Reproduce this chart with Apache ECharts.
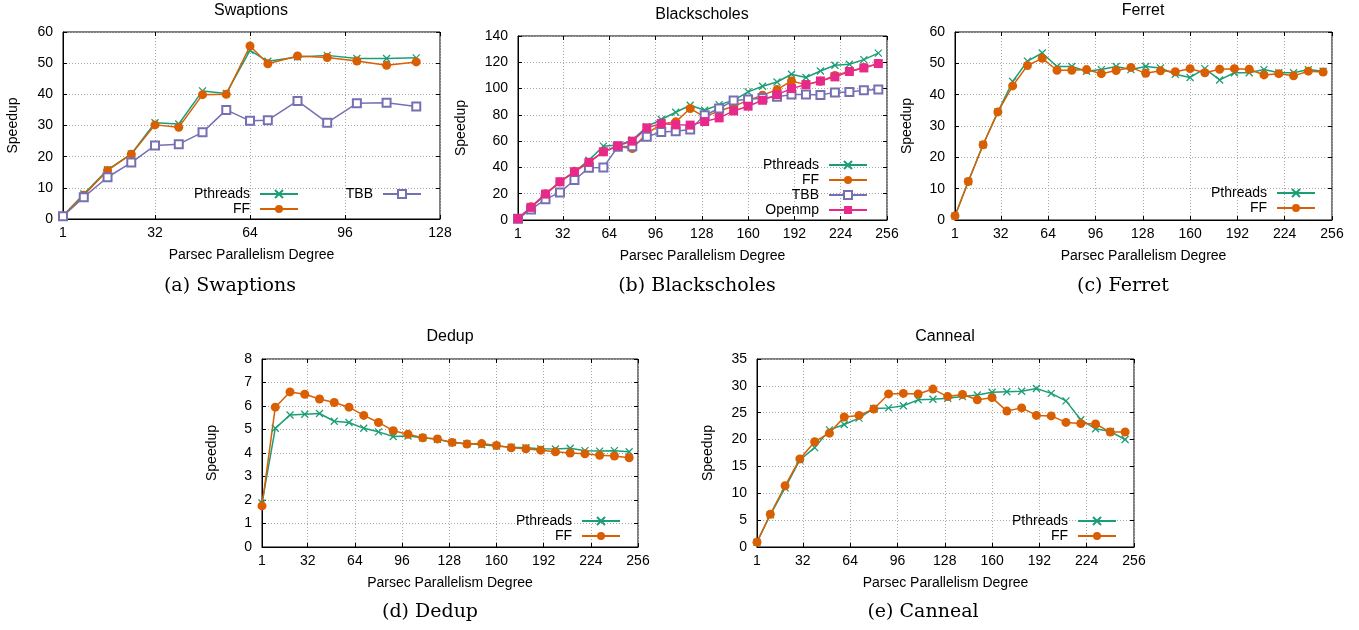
<!DOCTYPE html>
<html>
<head>
<meta charset="utf-8">
<script src="https://cdn.jsdelivr.net/npm/echarts@6/dist/echarts.min.js"></script>
<style>
html,body{margin:0;padding:0;background:#fff;}
#chart{width:1359px;height:630px;}
</style>
</head>
<body>
<div id="chart"></div>
<script>
// ---------- DATA ----------
const xSwaptions = [1, 8, 16, 24, 32, 40, 48, 56, 64, 70, 80, 90, 100, 110, 120];
const swPthreads = [1.0, 8.0, 15.8, 20.9, 30.9, 30.5, 41.1, 40.3, 54.1, 50.6, 52.0, 52.5, 51.5, 51.5, 51.7];
const swFF       = [1.0, 7.6, 15.6, 20.8, 30.2, 29.4, 39.9, 40.0, 55.5, 49.8, 52.3, 51.8, 50.7, 49.3, 50.4];
const swTBB      = [0.9, 7.0, 13.4, 18.1, 23.6, 24.0, 27.8, 35.0, 31.5, 31.7, 37.9, 30.9, 37.1, 37.3, 36.1];

const xParsec = [1, 10, 20, 30, 40, 50, 60, 70, 80, 90, 100, 110, 120, 130, 140, 150, 160, 170, 180, 190, 200, 210, 220, 230, 240, 250];

const bsPthreads = [1, 9.7, 19.5, 29, 36.7, 45.5, 56.2, 57, 60.8, 71, 76.5, 82, 87.3, 83.5, 87.8, 91, 97.5, 101.8, 105, 110.9, 108.4, 113.4, 117.7, 118.5, 122, 127];
const bsFF       = [1, 10, 20, 29, 37, 44, 52, 56, 54.4, 65.8, 73, 74.7, 84.8, 78.5, 83, 86.6, 91, 95, 99.2, 105.8, 103, 105.6, 110, 113, 116, 119];
const bsTBB      = [1, 8, 15.7, 21, 30.4, 39.7, 40, 55.7, 56.2, 63.3, 67, 67.6, 68.9, 79.7, 84.8, 91, 91.6, 92.9, 93.7, 95.4, 95.4, 95.2, 97, 97.4, 98.7, 99.2];
const bsOpenmp   = [1, 9.6, 19.7, 29.1, 36.7, 43.8, 51.9, 56.5, 60, 70.1, 73.4, 72.4, 72.2, 74.9, 77.7, 83, 86.6, 91.1, 95.4, 100, 103, 105.8, 108.9, 113, 115.7, 119];

const fePthreads = [1.3, 12.3, 24, 34.5, 44.2, 50.7, 53.3, 49, 49, 47.5, 48, 49, 48, 49, 48.5, 46.5, 45.5, 48.3, 44.7, 47, 47, 48, 47, 47, 48, 47.5];
const feFF       = [1.3, 12.3, 24, 34.5, 42.8, 49.3, 51.6, 47.8, 47.8, 48, 46.7, 47.7, 48.7, 46.8, 47.6, 47.3, 48.3, 47, 48.1, 48.3, 48.1, 46.3, 46.7, 46, 47.5, 47.2];

const dePthreads = [1.87, 5.05, 5.62, 5.65, 5.68, 5.35, 5.3, 5.05, 4.9, 4.7, 4.72, 4.65, 4.58, 4.45, 4.4, 4.35, 4.3, 4.25, 4.22, 4.18, 4.17, 4.2, 4.1, 4.08, 4.1, 4.05];
const deFF       = [1.75, 5.95, 6.6, 6.5, 6.3, 6.15, 5.95, 5.6, 5.3, 4.95, 4.8, 4.65, 4.6, 4.45, 4.38, 4.4, 4.32, 4.22, 4.18, 4.12, 4.05, 4.0, 3.97, 3.9, 3.87, 3.8];

const caPthreads = [0.9, 6, 11, 16.2, 18.5, 21.8, 22.8, 24, 25.8, 25.9, 26.3, 27.4, 27.5, 27.7, 28, 28.3, 28.8, 28.9, 29, 29.5, 28.6, 27.2, 23.7, 22, 21.5, 20];
const caFF       = [0.9, 6.1, 11.4, 16.4, 19.6, 21.2, 24.2, 24.5, 25.7, 28.5, 28.6, 28.5, 29.4, 28, 28.4, 27.4, 27.8, 25.3, 25.9, 24.5, 24.4, 23.2, 23, 22.9, 21.4, 21.4];

const ticks128 = [1, 32, 64, 96, 128];
const ticks256 = [1, 32, 64, 96, 128, 160, 192, 224, 256];

const titles = ['Swaptions', 'Blackscholes', 'Ferret', 'Dedup', 'Canneal'];
const captions = ['(a) Swaptions', '(b) Blackscholes', '(c) Ferret', '(d) Dedup', '(e) Canneal'];
const xName = 'Parsec Parallelism Degree';
const yName = 'Speedup';

// ---------- STYLE ----------
const C = { P: '#1b9e77', FF: '#d95f02', TBB: '#7570b3', OMP: '#e7298a' };
const SANS = 'Liberation Sans, Arial, Helvetica, sans-serif';
const SERIF = 'DejaVu Serif, serif';
const W = 1359;

const grids = [
  { left: 63,  top: 32, width: 377, height: 187 },
  { left: 518, top: 36, width: 369, height: 184 },
  { left: 955, top: 32, width: 377, height: 188 },
  { left: 262, top: 359, width: 376, height: 188 },
  { left: 757, top: 359, width: 377, height: 188 }
];
const yCfg = [
  { max: 60, interval: 10, gap: 43 },
  { max: 140, interval: 20, gap: 50 },
  { max: 60, interval: 10, gap: 41 },
  { max: 8, interval: 1, gap: 43 },
  { max: 35, interval: 5, gap: 42 }
];
const xCfg = [
  { max: 128, ticks: ticks128 },
  { max: 256, ticks: ticks256 },
  { max: 256, ticks: ticks256 },
  { max: 256, ticks: ticks256 },
  { max: 256, ticks: ticks256 }
];

const xAxes = [], yAxes = [];
grids.forEach((g, i) => {
  xAxes.push({
    type: 'value', gridIndex: i, min: 1, max: xCfg[i].max, position: 'bottom',
    name: xName, nameLocation: 'middle', nameGap: 29,
    nameTextStyle: { fontFamily: SANS, fontSize: 14, color: '#000' },
    axisLine: { show: true, onZero: false, lineStyle: { color: '#000', width: 1 } },
    axisTick: { show: true, inside: true, length: 4, customValues: xCfg[i].ticks, lineStyle: { color: '#000' } },
    axisLabel: { customValues: xCfg[i].ticks, fontFamily: SANS, fontSize: 14, color: '#000', margin: 7 },
    splitLine: { show: true, lineStyle: { color: '#a8a8a8', type: [1, 2], width: 1 } }
  });
  xAxes.push({
    type: 'value', gridIndex: i, min: 1, max: xCfg[i].max, position: 'top',
    axisLine: { show: false, onZero: false },
    axisTick: { show: true, inside: true, length: 4, customValues: xCfg[i].ticks, lineStyle: { color: '#000' } },
    axisLabel: { show: false }, splitLine: { show: false }
  });
  yAxes.push({
    type: 'value', gridIndex: i, min: 0, max: yCfg[i].max, interval: yCfg[i].interval, position: 'left',
    name: yName, nameLocation: 'middle', nameGap: yCfg[i].gap, nameRotate: 90,
    nameTextStyle: { fontFamily: SANS, fontSize: 14, color: '#000' },
    axisLine: { show: true, onZero: false, lineStyle: { color: '#000', width: 1 } },
    axisTick: { show: true, inside: true, length: 4, lineStyle: { color: '#000' } },
    axisLabel: { fontFamily: SANS, fontSize: 14, color: '#000', margin: 10 },
    splitLine: { show: true, lineStyle: { color: '#a8a8a8', type: [1, 2], width: 1 } }
  });
  yAxes.push({
    type: 'value', gridIndex: i, min: 0, max: yCfg[i].max, interval: yCfg[i].interval, position: 'right',
    axisLine: { show: false, onZero: false },
    axisTick: { show: true, inside: true, length: 4, lineStyle: { color: '#000' } },
    axisLabel: { show: false }, splitLine: { show: false }
  });
});

const XPATH = 'path://M0,0L10,10M10,0L0,10';
function mk(name, gi, xs, ys) {
  const d = xs.map((x, k) => [x, ys[k]]);
  const base = {
    name, type: 'line', xAxisIndex: gi * 2, yAxisIndex: gi * 2, data: d,
    animation: false, silent: true, z: 3
  };
  if (name === 'Pthreads') {
    return Object.assign(base, { symbol: XPATH, symbolSize: 7,
      lineStyle: { color: C.P, width: 1.5 },
      itemStyle: { color: C.P, borderColor: C.P, borderWidth: 1.3 } });
  }
  if (name === 'FF') {
    return Object.assign(base, { symbol: 'circle', symbolSize: 9,
      lineStyle: { color: C.FF, width: 1.5 }, itemStyle: { color: C.FF } });
  }
  if (name === 'TBB') {
    return Object.assign(base, { symbol: 'emptyRect', symbolSize: 8,
      lineStyle: { color: C.TBB, width: 1.5 }, itemStyle: { color: C.TBB, borderWidth: 1.2 } });
  }
  return Object.assign(base, { symbol: 'rect', symbolSize: 9,
    lineStyle: { color: C.OMP, width: 1.5 }, itemStyle: { color: C.OMP } });
}

const series = [
  mk('Pthreads', 0, xSwaptions, swPthreads),
  mk('FF', 0, xSwaptions, swFF),
  mk('TBB', 0, xSwaptions, swTBB),
  mk('Pthreads', 1, xParsec, bsPthreads),
  mk('FF', 1, xParsec, bsFF),
  mk('TBB', 1, xParsec, bsTBB),
  mk('Openmp', 1, xParsec, bsOpenmp),
  mk('Pthreads', 2, xParsec, fePthreads),
  mk('FF', 2, xParsec, feFF),
  mk('Pthreads', 3, xParsec, dePthreads),
  mk('FF', 3, xParsec, deFF),
  mk('Pthreads', 4, xParsec, caPthreads),
  mk('FF', 4, xParsec, caFF)
];

function lg(data, lineEnd, firstRowY) {
  return {
    data, orient: 'vertical', align: 'right', right: W - lineEnd, top: firstRowY - 7,
    padding: 0, itemGap: 1, itemWidth: 38, itemHeight: 10, selectedMode: false,
    textStyle: { fontFamily: SANS, fontSize: 14, color: '#000', padding: [0, 5, 0, 0], lineHeight: 14 }
  };
}
const legends = [
  lg(['Pthreads', 'FF'], 299, 194),
  lg(['TBB'], 422, 194),
  lg(['Pthreads', 'FF', 'TBB', 'Openmp'], 868, 165),
  lg(['Pthreads', 'FF'], 1316, 193),
  lg(['Pthreads', 'FF'], 621, 521),
  lg(['Pthreads', 'FF'], 1117, 521)
];

const titlePos = [[251, 11], [702, 15], [1143, 11], [450, 337], [945, 337]];
const captionPos = [[230, 286], [697, 286], [1123, 286], [430, 612], [923, 612]];
const graphics = [];
titles.forEach((t, i) => graphics.push({ type: 'text', x: titlePos[i][0], y: titlePos[i][1],
  style: { text: t, font: '16px ' + SANS, fill: '#000', align: 'center', verticalAlign: 'middle' } }));
captions.forEach((t, i) => graphics.push({ type: 'text', x: captionPos[i][0], y: captionPos[i][1],
  style: { text: t, font: '19px ' + SERIF, fill: '#000', align: 'center', verticalAlign: 'middle' } }));

const chart = echarts.init(document.getElementById('chart'), null, { renderer: 'canvas' });
chart.setOption({
  backgroundColor: '#fff',
  animation: false,
  grid: grids.map(g => Object.assign({ show: true, borderColor: '#000', borderWidth: 1, backgroundColor: 'transparent', containLabel: false }, g)),
  xAxis: xAxes,
  yAxis: yAxes,
  legend: legends,
  series,
  graphic: graphics
});
</script>
</body>
</html>
